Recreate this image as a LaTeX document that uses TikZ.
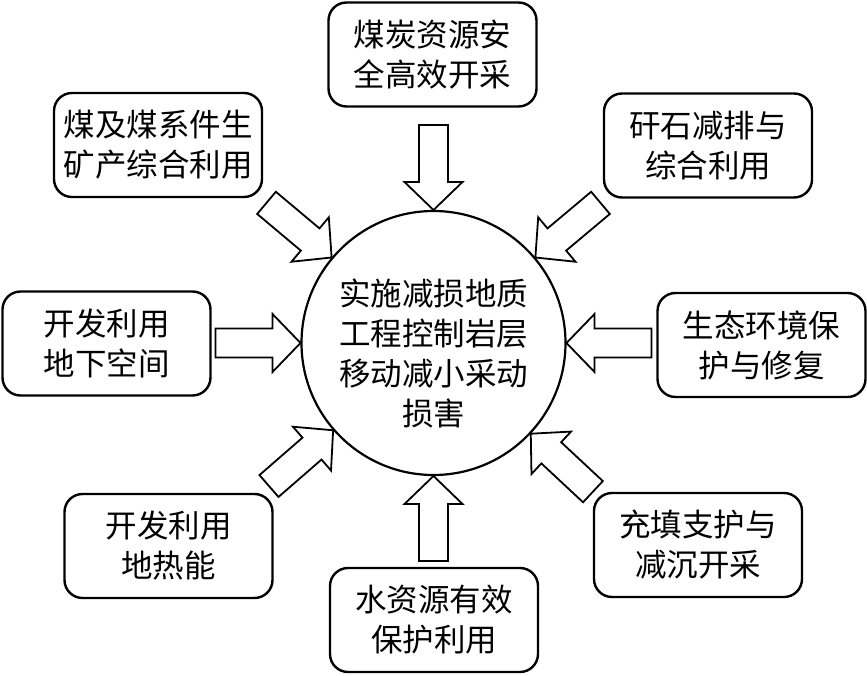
\documentclass[tikz,border=0pt]{standalone}
\usepackage{fontspec}
\newfontfamily\cjk{Noto Sans CJK SC}
\usetikzlibrary{calc}
\newcommand\blockarrow[1]{%
  \draw[barrow, shift={(hub.center)}, rotate=#1]
    (218,14.5) -- (161,14.5) -- (161,29) -- (133,0) -- (161,-29) -- (161,-14.5) -- (218,-14.5) -- cycle;}
\begin{document}
\begin{tikzpicture}[x=1pt,y=-1pt,
  box/.style={draw, line width=2.4pt, rounded corners=18pt, minimum width=208pt,
    minimum height=104pt, align=center, inner sep=0pt,
    font=\cjk\fontsize{31.5}{40}\selectfont},
  hub/.style={draw, circle, line width=2.2pt, minimum size=264pt, inner sep=0pt},
  hubtext/.style={align=center, inner sep=0pt, font=\cjk\fontsize{31.5}{40}\selectfont},
  barrow/.style={draw, line width=1.8pt, fill=white, line join=miter}]
\useasboundingbox (0,0) rectangle (867,676);
\fill[white] (0,0) rectangle (867,676);

\node[hub] (hub) at (433.5,343) {};
\node[hubtext] (hubt) at (433.5,353) {实施减损地质\\工程控制岩层\\移动减小采动\\损害};

\node[box] (top) at (432.5,54.5) {煤炭资源安\\全高效开采};
\node[box] (tl)  at (158,145)    {煤及煤系件生\\矿产综合利用};
\node[box] (tr)  at (708,145.5)  {矸石减排与\\综合利用};
\node[box] (lf)  at (106.5,343.5){开发利用\\地下空间};
\node[box] (rt)  at (761.5,345)  {生态环境保\\护与修复};
\node[box] (bl)  at (168.5,546)  {开发利用\\地热能};
\node[box] (br)  at (698,545)    {充填支护与\\减沉开采};
\node[box] (bt)  at (434,620)    {水资源有效\\保护利用};

\blockarrow{90}
\blockarrow{140}
\blockarrow{40}
\blockarrow{180}
\blockarrow{0}
\blockarrow{221}
\blockarrow{317}
\blockarrow{270}
\end{tikzpicture}
\end{document}
